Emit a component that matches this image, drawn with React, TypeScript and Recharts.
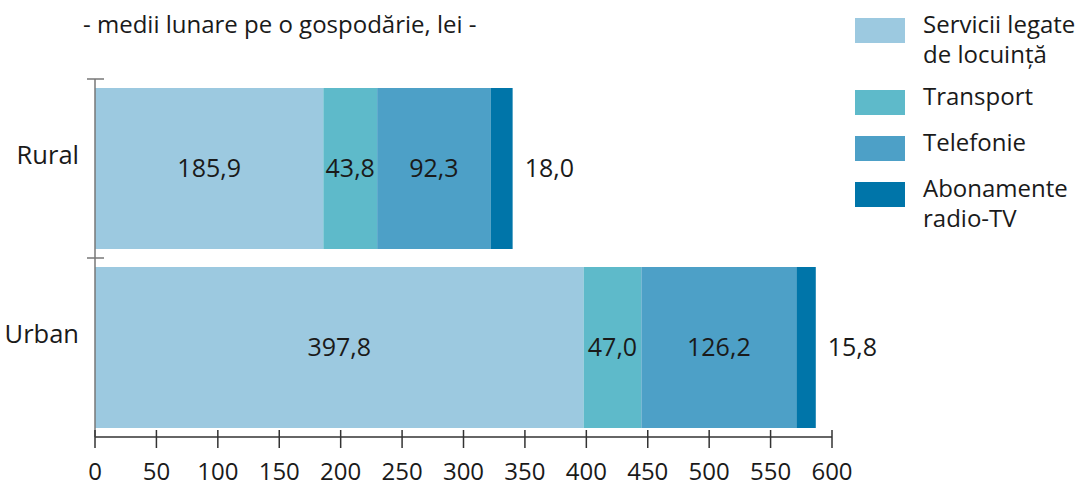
import React from 'react';
import { BarChart, Bar, XAxis, YAxis, LabelList } from 'recharts';

// ---------------------------------------------------------------------------
// Data
// ---------------------------------------------------------------------------

const categories = ['Rural', 'Urban'];
const servicii = [185.9, 397.8];
const transport = [43.8, 47.0];
const telefonie = [92.3, 126.2];
const abonamente = [18.0, 15.8];

const xTicks = [0, 50, 100, 150, 200, 250, 300, 350, 400, 450, 500, 550, 600];

const titleText = '- medii lunare pe o gospodărie, lei -';

const series = [
  { key: 'servicii', name: 'Servicii legate de locuință', color: '#9cc9e0' },
  { key: 'transport', name: 'Transport', color: '#5ebaca' },
  { key: 'telefonie', name: 'Telefonie', color: '#4da0c7' },
  { key: 'abonamente', name: 'Abonamente radio-TV', color: '#0075a9' },
];

const data = categories.map((name, i) => ({
  name,
  servicii: servicii[i],
  transport: transport[i],
  telefonie: telefonie[i],
  abonamente: abonamente[i],
}));

const FONT = "'Open Sans', sans-serif";

function formatValue(v: number): string {
  return v.toFixed(1).replace('.', ',');
}

// ---------------------------------------------------------------------------
// Custom ticks
// ---------------------------------------------------------------------------

function XTick(props: any) {
  const { x, y, payload } = props;
  return (
    <g>
      <line x1={x} x2={x} y1={y - 7} y2={y + 11} stroke="#333" strokeWidth={1.5} />
      <text x={x} y={y + 43} textAnchor="middle" fontSize={24} fill="#1a1a1a" fontFamily={FONT}>
        {payload.value}
      </text>
    </g>
  );
}

function YTick(props: any) {
  const { x, y, payload } = props;
  const bandTop = y - (payload.offset ?? 0);
  return (
    <g>
      <line x1={x - 8} x2={x + 9} y1={bandTop} y2={bandTop} stroke="#777" strokeWidth={1.5} />
      <text x={x - 16} y={y - 4.5} textAnchor="end" fontSize={25.5} fill="#1a1a1a" fontFamily={FONT}>
        {payload.value}
      </text>
    </g>
  );
}

// ---------------------------------------------------------------------------
// Legend
// ---------------------------------------------------------------------------

function SideLegend() {
  return (
    <div style={{ position: 'absolute', left: 855, top: 9, width: 230, fontFamily: FONT }}>
      {series.map((s) => (
        <div key={s.key} style={{ display: 'flex', alignItems: 'flex-start', marginBottom: 12 }}>
          <div style={{ width: 50, height: 25, marginTop: 9, background: s.color, flexShrink: 0 }} />
          <div
            style={{
              marginLeft: 18,
              width: 165,
              fontSize: 24,
              lineHeight: '30px',
              color: '#1a1a1a',
            }}
          >
            {s.name}
          </div>
        </div>
      ))}
    </div>
  );
}

// ---------------------------------------------------------------------------
// Component
// ---------------------------------------------------------------------------

export default function App() {
  return (
    <div
      style={{
        position: 'absolute',
        left: 0,
        top: 0,
        width: 1090,
        height: 488,
        overflow: 'hidden',
        background: '#fff',
        fontFamily: FONT,
      }}
    >
      <div
        style={{
          position: 'absolute',
          left: 83,
          top: 12,
          fontSize: 24,
          lineHeight: '24px',
          color: '#1a1a1a',
          whiteSpace: 'nowrap',
        }}
      >
        {titleText}
      </div>

      <BarChart
        width={1090}
        height={488}
        data={data}
        layout="vertical"
        margin={{ top: 79, right: 258, bottom: 0, left: 0 }}
        barCategoryGap="5%"
      >
        <XAxis
          type="number"
          domain={[0, 600]}
          ticks={xTicks}
          interval={0}
          height={51}
          axisLine={{ stroke: '#333', strokeWidth: 1.5 }}
          tickLine={false}
          tickSize={0}
          tickMargin={0}
          tick={<XTick />}
        />
        <YAxis
          type="category"
          dataKey="name"
          width={95}
          axisLine={{ stroke: '#777', strokeWidth: 1.5 }}
          tickLine={false}
          tickSize={0}
          tickMargin={0}
          tick={<YTick />}
        />
        {series.map((s, i) => (
          <Bar
            key={s.key}
            dataKey={s.key}
            name={s.name}
            stackId="a"
            fill={s.color}
            isAnimationActive={false}
          >
            <LabelList
              dataKey={s.key}
              position={i === series.length - 1 ? 'right' : 'center'}
              offset={12}
              formatter={(v: any) => formatValue(Number(v))}
              fill="#1a1a1a"
              fontSize={25}
              fontFamily={FONT}
            />
          </Bar>
        ))}
      </BarChart>

      <SideLegend />
    </div>
  );
}
